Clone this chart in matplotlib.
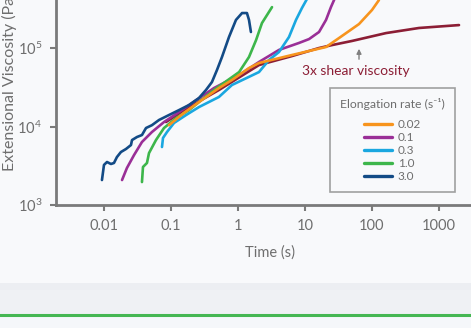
import matplotlib
matplotlib.use("Agg")
import matplotlib.pyplot as plt
from matplotlib.lines import Line2D

# ---------------- data ----------------
rate_labels = ["0.02", "0.1", "0.3", "1.0", "3.0"]
colors = ["#f7941d", "#9a2f97", "#1aa7e0", "#3db64b", "#134b86"]

t_002 = [0.0933, 0.156, 0.262, 0.520, 0.813, 1.46, 2.06, 6.40, 20.6, 32.2, 64.0, 100, 127]
e_002 = [10400, 14900, 20500, 30900, 39100, 55600, 64400, 81500, 103000, 134000, 202000, 305000, 408000]

t_01 = [0.0186, 0.0220, 0.0281, 0.0369, 0.0520, 0.0787, 0.132, 0.206, 0.438, 1.04, 2.06, 4.09, 8.14, 11.5, 16.2, 20.6, 24.4, 28.0]
e_01 = [2080, 2960, 4330, 6350, 8510, 11400, 15300, 19900, 30900, 45300, 66400, 94500, 116000, 130000, 160000, 228000, 332000, 434000]

t_03 = [0.0734, 0.0760, 0.0872, 0.111, 0.168, 0.262, 0.520, 0.813, 2.06, 2.90, 4.09, 5.77, 7.34, 9.02, 10.7]
e_03 = [5480, 7140, 8510, 11100, 14000, 17700, 23800, 33800, 49400, 70300, 88900, 138000, 228000, 324000, 421000]

t_10 = [0.0369, 0.0382, 0.0438, 0.0470, 0.0597, 0.0787, 0.119, 0.186, 0.438, 1.04, 1.46, 1.86, 2.28, 3.22]
e_10 = [1960, 3050, 3430, 4590, 6720, 9570, 12800, 16200, 29200, 49400, 76800, 126000, 208000, 332000]

t_30 = [0.00933, 0.0100, 0.0111, 0.0127, 0.0141, 0.0156, 0.0179, 0.0213, 0.0253, 0.0262, 0.0311,
        0.0369, 0.0424, 0.0520, 0.0662, 0.0933, 0.132, 0.186, 0.262, 0.333, 0.409, 0.486, 0.577,
        0.734, 0.933, 1.15, 1.36, 1.46, 1.56]
e_30 = [2080, 3240, 3530, 3330, 3430, 4080, 4730, 5170, 5810, 6720, 7350,
        7790, 9570, 10400, 12100, 14000, 16200, 18800, 23100, 29200, 36900, 52500, 76800,
        138000, 228000, 279000, 279000, 228000, 160000]

t_shear = [0.0842, 0.186, 0.520, 2.06, 6.40, 16.2, 25.3, 50.3, 162, 503, 1990]
e_shear = [11400, 17700, 29200, 60700, 79000, 100000, 109000, 123000, 155000, 180000, 196000]

series_t = [t_002, t_01, t_03, t_10, t_30]
series_e = [e_002, e_01, e_03, e_10, e_30]

xticks = [0.01, 0.1, 1, 10, 100, 1000]
xticklabels = ["0.01", "0.1", "1", "10", "100", "1000"]
yticks = [1e3, 1e4, 1e5]
yticklabels = [r"$\mathregular{10^{3}}$", r"$\mathregular{10^{4}}$", r"$\mathregular{10^{5}}$"]

# ---------------- style ----------------
BG = "#f8f9fb"
GREY = "#6e6e6e"
SPINE = "#7a7a7a"
SHEAR = "#8c1e35"
FONT = ["Lato", "DejaVu Sans"]
plt.rcParams["font.family"] = FONT
plt.rcParams["mathtext.fontset"] = "custom"
plt.rcParams["mathtext.rm"] = "Lato"
plt.rcParams["mathtext.it"] = "Lato:italic"
plt.rcParams["mathtext.bf"] = "Lato:bold"

fig = plt.figure(figsize=(4.71, 3.28), dpi=100, facecolor=BG)

# bottom decorative band
fig.patches.append(plt.Rectangle((0, 0), 1, (328 - 283) / 328, transform=fig.transFigure,
                                 facecolor="#eff1f4", edgecolor="none", zorder=0))
fig.patches.append(plt.Rectangle((0, (328 - 290) / 328), 1, 7 / 328, transform=fig.transFigure,
                                 facecolor="#eceef2", edgecolor="none", zorder=0))
fig.patches.append(plt.Rectangle((0, 0), 1, (328 - 316) / 328, transform=fig.transFigure,
                                 facecolor="#f5f7fa", edgecolor="none", zorder=0))
fig.add_artist(Line2D([0, 1], [(328 - 314.5) / 328] * 2, transform=fig.transFigure,
                      color="#45b753", lw=2.2))

ax = fig.add_axes([56 / 471, (328 - 205) / 328, 450 / 471, 258 / 328])
ax.set_facecolor(BG)
ax.set_xscale("log")
ax.set_yscale("log")
ax.set_xlim(10 ** -2.716, 1e4)
ax.set_ylim(1e3, 10 ** 6.287)

ax.plot(t_shear, e_shear, color=SHEAR, lw=1.9, solid_capstyle="round", zorder=2)
for i, (t, e, c, lab) in enumerate(zip(series_t, series_e, colors, rate_labels)):
    ax.plot(t, e, color=c, lw=1.9, label=lab, solid_capstyle="round",
            zorder=5 if i == 0 else 3)

for s in ["top", "right"]:
    ax.spines[s].set_visible(False)
for s in ["left", "bottom"]:
    ax.spines[s].set_color(SPINE)
    ax.spines[s].set_linewidth(2)

ax.set_xticks(xticks)
ax.set_xticklabels(xticklabels)
ax.set_yticks(yticks)
ax.set_yticklabels(yticklabels)
ax.minorticks_off()
ax.tick_params(axis="both", which="major", direction="out", length=4, width=1.5,
               color=SPINE, labelcolor=GREY, labelsize=10.5, pad=6)

ax.set_xlabel("Time (s)", color=GREY, fontsize=10.5)
ax.xaxis.set_label_coords((270 - 56) / 450, -0.155)
ax.set_ylabel("Extensional Viscosity (Pa·s)", color=GREY, fontsize=11.5)
ax.yaxis.set_label_coords(-0.104, 0.50)
ax.yaxis.label.set_va("center")

# annotation
ax.annotate("", xy=(64, 106000), xytext=(64, 66400),
            arrowprops=dict(arrowstyle="-|>", color="#808080", lw=1, mutation_scale=7))
ax.text(57.6, 50900, "3x shear viscosity", color=SHEAR, fontsize=10,
        ha="center", va="center")

leg = ax.legend(title="Elongation rate (s⁻¹)", loc="upper left",
                bbox_to_anchor=(330 / 471, (328 - 88) / 328), bbox_transform=fig.transFigure,
                fontsize=8.5, title_fontsize=8.8, frameon=True, fancybox=False,
                handlelength=2.4, handletextpad=0.5, labelspacing=0.17,
                borderpad=0.85, borderaxespad=0)
leg._legend_box.sep = 6.3
leg.get_frame().set_edgecolor("#8a8a8a")
leg.get_frame().set_linewidth(1.2)
leg.get_frame().set_facecolor(BG)
leg.get_title().set_color(GREY)
for txt in leg.get_texts():
    txt.set_color(GREY)
for h in leg.legend_handles:
    h.set_linewidth(2.4)

fig.savefig("out.png", dpi=100, facecolor=BG)
